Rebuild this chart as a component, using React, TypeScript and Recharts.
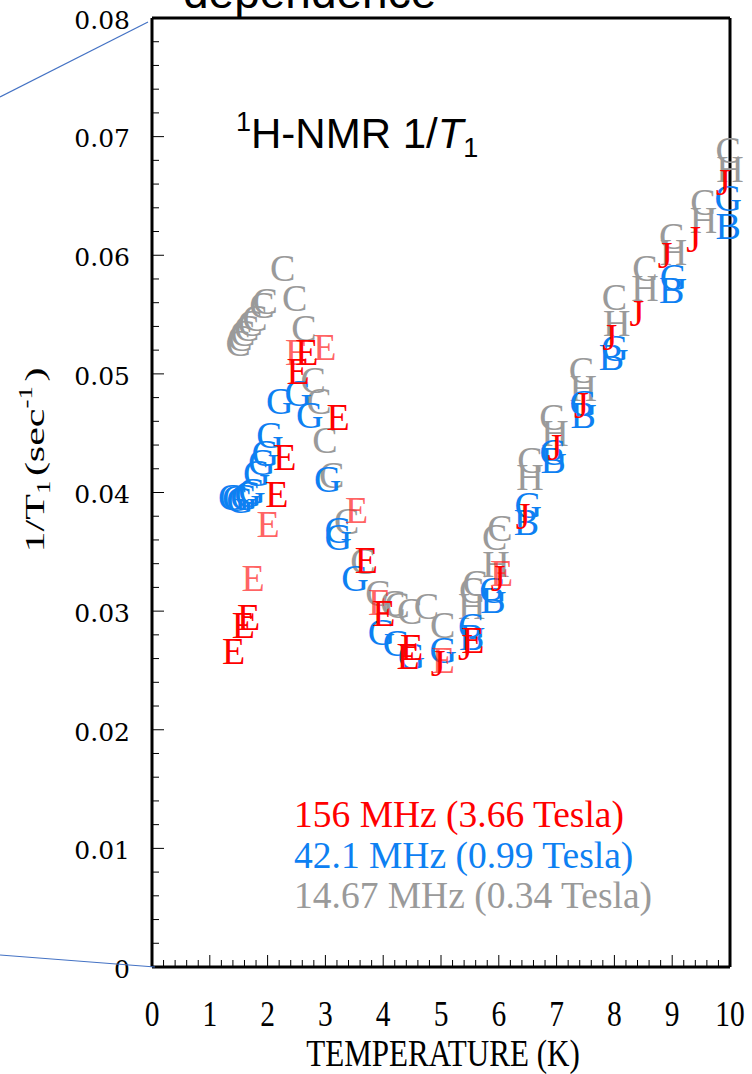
import { ScatterChart, Scatter, XAxis, YAxis } from "recharts";

// 156 MHz (3.66 T) runs, [temperature K, 1/T1 sec^-1]
const redE: [number, number][] = [
  [1.41, 0.0266], [1.58, 0.0288], [1.67, 0.0295], [2.16, 0.0399], [2.3, 0.043],
  [2.53, 0.0502], [2.68, 0.0518], [3.22, 0.0464], [3.71, 0.0343], [4.01, 0.0298],
  [4.49, 0.027], [4.43, 0.0262], [5.55, 0.0276],
];
const pinkE: [number, number][] = [
  [1.75, 0.0328], [2.01, 0.0373], [2.5, 0.0518], [2.99, 0.0523], [3.54, 0.0385],
  [3.94, 0.0308], [5.04, 0.0259], [6.05, 0.0332],
];
const redJ: [number, number][] = [
  [4.95, 0.0256], [5.42, 0.027], [5.99, 0.0328], [6.42, 0.038], [6.97, 0.0438],
  [7.43, 0.0474], [7.92, 0.0531], [8.39, 0.0551], [8.88, 0.06], [9.37, 0.0614],
  [9.88, 0.0662],
];

// 42.1 MHz (0.99 T) runs
const blueG: [number, number][] = [
  [1.38, 0.0396], [1.45, 0.0395], [1.52, 0.0394], [1.59, 0.0396], [1.66, 0.0399],
  [1.73, 0.0401], [1.81, 0.0416], [1.9, 0.0426], [1.96, 0.0433], [2.04, 0.0448],
  [2.21, 0.0477], [2.53, 0.0484], [2.73, 0.0465], [3.04, 0.0411], [3.22, 0.0368],
  [3.22, 0.0362], [3.51, 0.0328], [3.97, 0.0282], [4.23, 0.0273], [4.49, 0.0262],
  [5.04, 0.0267], [5.53, 0.0287], [5.9, 0.0318], [6.51, 0.0389], [6.94, 0.0434],
  [7.46, 0.0475], [8.01, 0.0522], [9.02, 0.0582], [9.97, 0.0648],
];
const blueB: [number, number][] = [
  [5.53, 0.0278], [5.9, 0.0309], [6.48, 0.0375], [6.94, 0.0427], [7.46, 0.0465],
  [7.95, 0.0514], [8.99, 0.0571], [9.97, 0.0625],
];

// 14.67 MHz (0.34 T) runs
const grayC: [number, number][] = [
  [1.49, 0.0526], [1.52, 0.053], [1.57, 0.0534], [1.64, 0.0539], [1.7, 0.0543],
  [1.78, 0.0547], [1.9, 0.0558], [1.96, 0.0561], [2.26, 0.0589], [2.47, 0.0564],
  [2.63, 0.0539], [2.79, 0.0495], [2.89, 0.0477], [2.99, 0.0444], [3.11, 0.0415],
  [3.37, 0.0376], [3.65, 0.0342], [3.91, 0.0315], [4.17, 0.0307], [4.24, 0.0305],
  [4.46, 0.03], [4.75, 0.0304], [5.03, 0.0288], [5.53, 0.0318], [5.59, 0.0324],
  [5.93, 0.0362], [6.02, 0.037], [6.54, 0.0427], [6.92, 0.0464], [7.43, 0.0503],
  [8.0, 0.0565], [8.53, 0.0589], [8.99, 0.0616], [9.53, 0.0645], [9.97, 0.0689],
];
const grayH: [number, number][] = [
  [5.53, 0.0304], [5.95, 0.034], [6.54, 0.0413], [6.97, 0.045], [7.46, 0.0488],
  [8.04, 0.0543], [8.53, 0.0572], [9.02, 0.0603], [9.54, 0.063], [10.0, 0.0673],
];

const xTicks = Array.from({ length: 51 }, (_, i) => i / 5);
const yTicks = Array.from({ length: 41 }, (_, i) => i / 500);

const legendLines = [
  { text: "156 MHz (3.66 Tesla)", color: "#ff0000" },
  { text: "42.1 MHz (0.99 Tesla)", color: "#0d80f2" },
  { text: "14.67 MHz (0.34 Tesla)", color: "#9a9a9a" },
];

const SERIF = "'Liberation Serif', 'Times New Roman', serif";
const SANS = "'Liberation Sans', Arial, sans-serif";
const W = 752;
const H = 1074;
const MAJOR = 12;
const MINOR = 7;

const isMajorX = (v: number) => Math.abs(v - Math.round(v)) < 1e-6;
const isMajorY = (v: number) => Math.abs(v * 100 - Math.round(v * 100)) < 1e-6;

const toPts = (arr: [number, number][]) => arr.map(([t, r]) => ({ t, r }));

function letter(ch: string, color: string) {
  return (props: any) => (
    <text
      x={props.cx}
      y={props.cy}
      dy="0.34em"
      textAnchor="middle"
      fontFamily={SERIF}
      fontSize={38}
      fill={color}
    >
      {ch}
    </text>
  );
}

function BottomTick({ x, y, payload }: any) {
  const v = payload.value;
  const major = isMajorX(v);
  return (
    <g>
      <line x1={x} x2={x} y1={y} y2={y - (major ? MAJOR : MINOR)} stroke="#000" strokeWidth={1} />
      {major && (
        <text
          transform={`translate(${x},${y + 46}) scale(0.82,1)`}
          dy="0.35em"
          textAnchor="middle"
          fontFamily={SERIF}
          fontSize={36}
          fill="#000"
        >
          {Math.round(v)}
        </text>
      )}
    </g>
  );
}

function TopTick({ x, y, payload }: any) {
  const major = isMajorX(payload.value);
  return <line x1={x} x2={x} y1={y} y2={y + (major ? MAJOR : MINOR)} stroke="#000" strokeWidth={1} />;
}

function LeftTick({ x, y, payload }: any) {
  const v = payload.value;
  const major = isMajorY(v);
  return (
    <g>
      <line x1={x} x2={x + (major ? MAJOR : MINOR)} y1={y} y2={y} stroke="#000" strokeWidth={1} />
      {major && (
        <text
          x={x - 22}
          y={y + 2}
          dy="0.35em"
          textAnchor="end"
          fontFamily="'DejaVu Serif', serif"
          fontSize={25}
          fill="#000"
        >
          {v === 0 ? "0" : v.toFixed(2)}
        </text>
      )}
    </g>
  );
}

function RightTick({ x, y, payload }: any) {
  const major = isMajorY(payload.value);
  return <line x1={x} x2={x - (major ? MAJOR : MINOR)} y1={y} y2={y} stroke="#000" strokeWidth={1} />;
}

const spine = { stroke: "#000", strokeWidth: 3 };

export default function App() {
  return (
    <div style={{ position: "absolute", left: 0, top: 0, width: W, height: H, background: "#fff", overflow: "hidden" }}>
      <ScatterChart width={W} height={H} margin={{ top: 17, right: 21, bottom: 0, left: 0 }}>
        <XAxis
          xAxisId="b"
          dataKey="t"
          type="number"
          domain={[0, 10]}
          ticks={xTicks}
          interval={0}
          height={107}
          tickSize={0}
          tickMargin={0}
          tickLine={false}
          axisLine={spine}
          tick={<BottomTick />}
        />
        <XAxis
          xAxisId="t"
          orientation="top"
          type="number"
          domain={[0, 10]}
          ticks={xTicks}
          interval={0}
          height={1}
          tickSize={0}
          tickMargin={0}
          tickLine={false}
          axisLine={spine}
          tick={<TopTick />}
        />
        <YAxis
          yAxisId="l"
          dataKey="r"
          type="number"
          domain={[0, 0.08]}
          ticks={yTicks}
          interval={0}
          width={152}
          tickSize={0}
          tickMargin={0}
          tickLine={false}
          axisLine={spine}
          tick={<LeftTick />}
        />
        <YAxis
          yAxisId="r"
          orientation="right"
          type="number"
          domain={[0, 0.08]}
          ticks={yTicks}
          interval={0}
          width={1}
          tickSize={0}
          tickMargin={0}
          tickLine={false}
          axisLine={spine}
          tick={<RightTick />}
        />
        <Scatter xAxisId="b" yAxisId="l" data={toPts(grayC)} shape={letter("C", "#9a9a9a")} isAnimationActive={false} />
        <Scatter xAxisId="b" yAxisId="l" data={toPts(grayH)} shape={letter("H", "#9a9a9a")} isAnimationActive={false} />
        <Scatter xAxisId="b" yAxisId="l" data={toPts(blueG)} shape={letter("G", "#0d80f2")} isAnimationActive={false} />
        <Scatter xAxisId="b" yAxisId="l" data={toPts(blueB)} shape={letter("B", "#0d80f2")} isAnimationActive={false} />
        <Scatter xAxisId="b" yAxisId="l" data={toPts(pinkE)} shape={letter("E", "rgba(255,40,40,0.72)")} isAnimationActive={false} />
        <Scatter xAxisId="b" yAxisId="l" data={toPts(redE)} shape={letter("E", "#ff0000")} isAnimationActive={false} />
        <Scatter xAxisId="b" yAxisId="l" data={toPts(redJ)} shape={letter("J", "#ff0000")} isAnimationActive={false} />
      </ScatterChart>

      <svg width={W} height={H} style={{ position: "absolute", left: 0, top: 0, pointerEvents: "none" }}>
        {/* zoom guide lines from the previous panel */}
        <line x1={0} y1={97} x2={148} y2={22} stroke="#4472c4" strokeWidth={1.2} />
        <line x1={0} y1={955} x2={155} y2={967} stroke="#4472c4" strokeWidth={1.2} />

        <text x={183} y={8} fontFamily={SANS} fontSize={46} fill="#000">dependence</text>

        <text x={236} y={148} fontFamily={SANS} fontSize={42} fill="#000">
          <tspan fontSize={27} dy={-17}>1</tspan>
          <tspan dy={17}>H-NMR 1/</tspan>
          <tspan fontStyle="italic">T</tspan>
          <tspan fontSize={27} dy={9}>1</tspan>
        </text>

        {legendLines.map((l, i) => (
          <text key={l.text} x={294} y={827 + i * 40.5} fontFamily={SERIF} fontSize={37.5} fill={l.color}>
            {l.text}
          </text>
        ))}

        <text
          transform="translate(443,1053) scale(0.84,1)"
          dy="0.35em"
          textAnchor="middle"
          fontFamily={SERIF}
          fontSize={37}
          fill="#000"
        >
          TEMPERATURE (K)
        </text>

        <text
          transform="translate(44,460) rotate(-90) scale(1.5,1)"
          textAnchor="middle"
          fontFamily={SERIF}
          fontSize={28}
          fill="#000"
        >
          1/T
          <tspan fontSize={18} dy={6}>1</tspan>
          <tspan dy={-6} dx={3}>(sec</tspan>
          <tspan fontSize={18} dy={-12}>-1</tspan>
          <tspan dy={12} dx={3}>)</tspan>
        </text>
      </svg>
    </div>
  );
}
